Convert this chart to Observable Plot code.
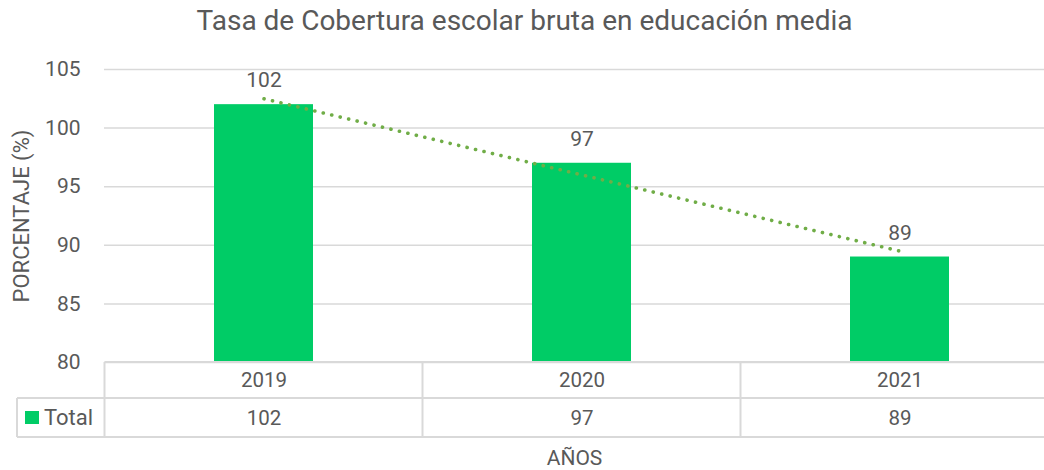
<!DOCTYPE html>
<html><head><meta charset="utf-8">
<script src="https://cdn.jsdelivr.net/npm/d3@7"></script>
<script src="https://cdn.jsdelivr.net/npm/@observablehq/plot@0.6"></script>
<style>body{margin:0;background:#fff;overflow:hidden}</style>
</head><body><div id="chart"></div>
<script>
const title = "Tasa de Cobertura escolar bruta en educación media";
const years = ["2019", "2020", "2021"];
const totals = [102, 97, 89];
const trend = [102.5, 96, 89.5];
const yTicks = [80, 85, 90, 95, 100, 105];
const seriesName = "Total";
const xLabel = "AÑOS";
const yLabel = "PORCENTAJE (%)";

const data = years.map((y, i) => ({year: y, total: totals[i], trend: trend[i]}));
const W = 1044, H = 470;
const textColor = "#595959", gridColor = "#d9d9d9", barColor = "#00cc66", trendColor = "#70ad47";
const font = "Roboto, 'Open Sans', sans-serif";

const plot = Plot.plot({
  width: W, height: H,
  marginTop: 69, marginBottom: 108, marginLeft: 104, marginRight: 0,
  style: {fontFamily: font, color: textColor, background: "#fff", overflow: "visible"},
  x: {domain: years, range: [104, 1058], paddingInner: 0.689, paddingOuter: 0.3445, axis: null},
  y: {domain: [80, 105], axis: null},
  marks: [
    Plot.ruleY(yTicks, {stroke: gridColor, strokeWidth: 1.5}),
    Plot.axisY(yTicks, {tickSize: 0, tickPadding: 24, fontSize: 21, fill: textColor, label: null}),
    Plot.barY(data, {x: "year", y1: 80, y2: "total", fill: barColor}),
    Plot.line(data, {x: "year", y: "trend", stroke: trendColor, strokeWidth: 3.6, strokeDasharray: "0.1 8.6", strokeLinecap: "round"}),
    Plot.text(data, {x: "year", y: "total", text: d => String(d.total), dy: -24, fontSize: 21, fill: textColor}),
    Plot.text(data, {x: "year", text: "year", frameAnchor: "bottom", lineAnchor: "middle", dy: 18, fontSize: 20.5, fill: textColor}),
    Plot.text(data, {x: "year", text: d => String(d.total), frameAnchor: "bottom", lineAnchor: "middle", dy: 56, fontSize: 20.5, fill: textColor}),
    Plot.text([title], {frameAnchor: "top", lineAnchor: "middle", dx: -50, dy: -48, fontSize: 28, fill: textColor}),
    Plot.text([xLabel], {frameAnchor: "bottom", lineAnchor: "middle", dy: 96, fontSize: 21, fill: textColor}),
    Plot.text([yLabel], {frameAnchor: "left", textAnchor: "middle", lineAnchor: "middle", dx: -83, rotate: -90, fontSize: 22, fill: textColor})
  ]
});

// data table borders and legend, positioned from the plot's x scale
const sx = plot.scale("x");
const sy = plot.scale("y");
const svg = d3.select(plot);
const half = (sx.step - sx.bandwidth) / 2;
const cellLeft = years.map(y => sx.apply(y) - half);
const tableRight = cellLeft[cellLeft.length - 1] + sx.step;
const tableTop = sy.apply(80);
const row1 = tableTop + 36, row2 = tableTop + 75;
const tableLeft = 17;
const g = svg.append("g").attr("stroke", gridColor).attr("stroke-width", 2).attr("fill", "none");
g.append("line").attr("x1", cellLeft[0]).attr("x2", tableRight).attr("y1", tableTop).attr("y2", tableTop);
g.append("line").attr("x1", tableLeft).attr("x2", tableRight).attr("y1", row1).attr("y2", row1);
g.append("line").attr("x1", tableLeft).attr("x2", tableRight).attr("y1", row2).attr("y2", row2);
g.append("line").attr("x1", tableLeft).attr("x2", tableLeft).attr("y1", row1).attr("y2", row2);
[...cellLeft, tableRight].forEach(x => g.append("line").attr("x1", x).attr("x2", x).attr("y1", tableTop).attr("y2", row2));
svg.append("rect").attr("x", 25).attr("y", 411).attr("width", 14).attr("height", 13).attr("fill", barColor);
svg.append("text").attr("x", 44).attr("y", (row1 + row2) / 2).attr("dy", "0.35em")
  .attr("text-anchor", "start").attr("font-size", 22).attr("fill", textColor)
  .attr("font-family", font).text(seriesName);

document.getElementById("chart").appendChild(plot);
</script>
</body></html>
